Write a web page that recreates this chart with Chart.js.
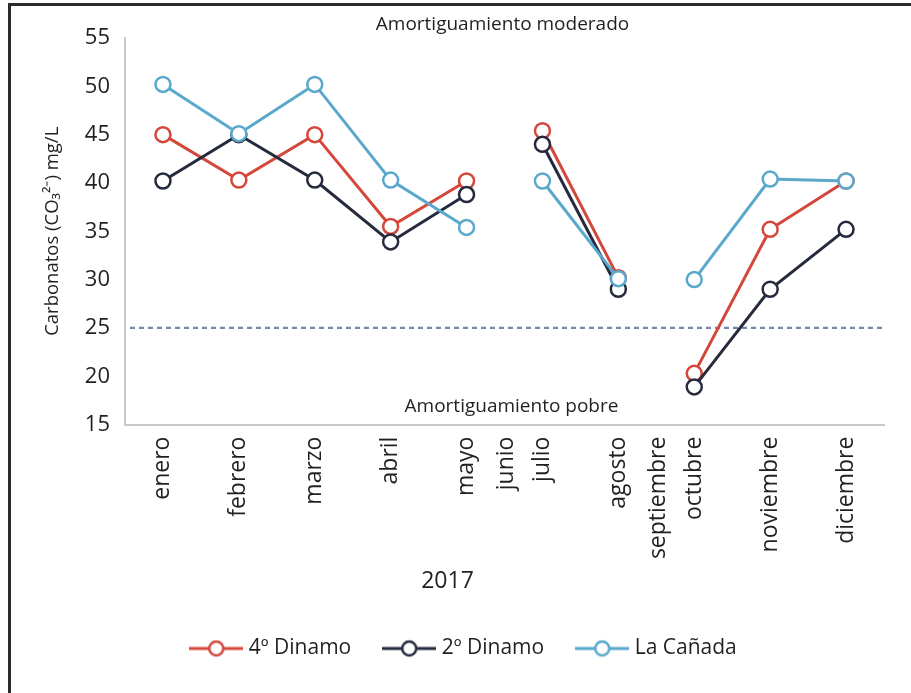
<!DOCTYPE html>
<html>
<head>
<meta charset="utf-8">
<script src="https://cdn.jsdelivr.net/npm/chart.js@4.4.1/dist/chart.umd.min.js"></script>
<style>
    html, body { margin: 0; padding: 0; background: #fff; }
    #frame { position: absolute; left: 8px; top: 3px; border-left: 3px solid #2b2b2b; border-top: 3px solid #2b2b2b; }
    canvas { display: block; }
</style>
</head>
<body>
<div id="frame"><canvas id="carbChart" width="900" height="687"></canvas></div>
<script>
// Carbonatos 2017 - three sampling points
const months = ['enero', 'febrero', 'marzo', 'abril', 'mayo', 'julio', 'agosto', 'octubre', 'noviembre', 'diciembre'];
// months with no sampling; each is shown just before the month in skippedBefore
const skippedMonths = ['junio', 'septiembre'];
const skippedBefore = ['julio', 'octubre'];

const dinamo4 = [45, 40.3, 45, 35.5, 40.2, 45.4, 30.2, 20.3, 35.2, 40.2];
const dinamo2 = [40.2, 45, 40.3, 33.9, 38.8, 44, 29, 18.9, 29, 35.2];
const canada = [50.2, 45.1, 50.2, 40.3, 35.4, 40.2, 30.1, 30, 40.4, 40.2];

const yTicks = [15, 20, 25, 30, 35, 40, 45, 50, 55];
const threshold = 25;
const zoneLabels = ['Amortiguamiento moderado', 'Amortiguamiento pobre'];

const FONT = '"Open Sans", sans-serif';
const TEXT = '#231f20';
const X_PAD = 12;
Chart.defaults.font.family = FONT;
Chart.defaults.color = TEXT;

function legendMarker(color) {
    const c = document.createElement('canvas');
    c.width = 54;
    c.height = 20;
    const g = c.getContext('2d');
    g.strokeStyle = color;
    g.lineWidth = 3;
    g.beginPath(); g.moveTo(0, 10); g.lineTo(54, 10); g.stroke();
    g.beginPath(); g.arc(27, 10, 7, 0, Math.PI * 2);
    g.fillStyle = '#fff'; g.fill();
    g.lineWidth = 2.5; g.stroke();
    return c;
}

function series(label, data, color, order) {
    return {
        label: label,
        data: data,
        order: order,
        borderColor: color,
        backgroundColor: '#fff',
        borderWidth: 3,
        pointRadius: 7.5,
        pointHoverRadius: 7.5,
        pointBorderWidth: 2.5,
        pointBackgroundColor: '#fff',
        pointBorderColor: color,
        tension: 0,
        // break the line where a month was not sampled
        segment: {
            borderColor: ctx => skippedBefore.includes(months[ctx.p1DataIndex]) ? 'transparent' : color
        }
    };
}

const extras = {
    id: 'extras',
    afterLayout(chart) {
        // legend sits a bit right of the canvas centre in the original
        chart.legend.left += 18;
        chart.legend.right += 18;
    },
    beforeDatasetsDraw(chart) {
        const { ctx, chartArea, scales } = chart;
        const yPx = scales.y.getPixelForValue(threshold);
        ctx.save();
        ctx.strokeStyle = '#7689ad';
        ctx.lineWidth = 2.2;
        ctx.setLineDash([5, 4]);
        ctx.beginPath();
        ctx.moveTo(chartArea.left + 5, yPx);
        ctx.lineTo(chartArea.right, yPx);
        ctx.stroke();
        ctx.restore();
    },
    afterDraw(chart) {
        const { ctx, chartArea, scales } = chart;
        const cx = (chartArea.left + chartArea.right) / 2;
        ctx.save();
        ctx.fillStyle = TEXT;
        ctx.font = '19px ' + FONT;
        ctx.textAlign = 'center';
        ctx.textBaseline = 'middle';
        ctx.fillText(zoneLabels[0], cx - 2, chartArea.top - 13);
        ctx.fillText(zoneLabels[1], cx + 7, chartArea.bottom - 18);

        // month names without data, squeezed next to the following month
        const xs = scales.x;
        ctx.font = '23px ' + FONT;
        ctx.textAlign = 'right';
        skippedMonths.forEach((m, i) => {
            const px = xs.getPixelForValue(months.indexOf(skippedBefore[i])) - 36;
            ctx.save();
            ctx.translate(px, xs.top + X_PAD);
            ctx.rotate(-Math.PI / 2);
            ctx.fillText(m, 0, 0);
            ctx.restore();
        });
        ctx.restore();
    }
};

new Chart(document.getElementById('carbChart'), {
    type: 'line',
    data: {
        labels: months,
        datasets: [
            series('4º Dinamo', dinamo4, '#d4473b', 2),
            series('2º Dinamo', dinamo2, '#262a3d', 1),
            series('La Cañada', canada, '#5aa8cc', 0)
        ]
    },
    options: {
        responsive: false,
        animation: false,
        events: [],
        layout: { padding: { top: 32, right: 27, left: 0, bottom: 24 } },
        scales: {
            x: {
                offset: true,
                grid: { display: false, drawTicks: false },
                border: { display: true, color: '#c8c8c8', width: 2 },
                ticks: {
                    autoSkip: false,
                    minRotation: 90,
                    maxRotation: 90,
                    padding: X_PAD,
                    font: { size: 23 },
                    color: TEXT
                }
            },
            y: {
                min: yTicks[0],
                max: yTicks[yTicks.length - 1],
                grid: { display: false, drawTicks: false },
                border: { display: true, color: '#c8c8c8', width: 2 },
                ticks: { stepSize: 5, padding: 15, font: { size: 22 }, color: TEXT },
                title: {
                    display: true,
                    text: 'Carbonatos (CO₃²⁻) mg/L',
                    font: { size: 18.5 },
                    color: TEXT,
                    padding: { top: 31, bottom: 0 }
                },
                afterFit: s => { s.width = 114; }
            }
        },
        plugins: {
            tooltip: { enabled: false },
            title: {
                display: true,
                text: '2017',
                position: 'bottom',
                weight: 500,
                color: TEXT,
                font: { size: 23, weight: 'normal' },
                padding: { top: 3, bottom: 7 }
            },
            legend: {
                position: 'bottom',
                labels: {
                    usePointStyle: true,
                    pointStyleWidth: 44,
                    padding: 36,
                    color: TEXT,
                    font: { size: 21 },
                    generateLabels: chart => chart.data.datasets.map((ds, i) => ({
                        text: ds.label,
                        datasetIndex: i,
                        pointStyle: legendMarker(ds.borderColor),
                        fillStyle: '#fff',
                        strokeStyle: ds.borderColor,
                        lineWidth: 0,
                        fontColor: TEXT,
                        hidden: !chart.isDatasetVisible(i)
                    }))
                }
            }
        }
    },
    plugins: [extras]
});
</script>
</body>
</html>
